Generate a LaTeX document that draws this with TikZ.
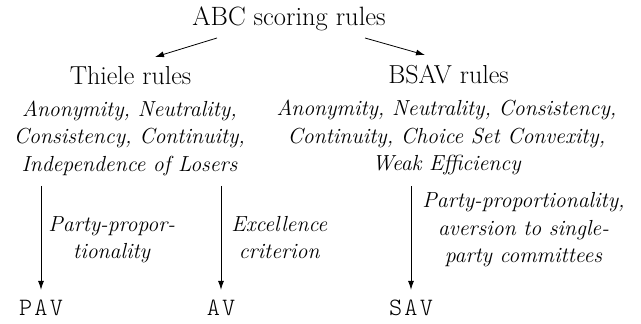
\documentclass[tikz,border=0pt]{standalone}
\usepackage{fontspec}
\newfontfamily\codefont{Latin Modern Mono Light}[LetterSpace=9]
\usetikzlibrary{arrows.meta}
\begin{document}
\begin{tikzpicture}[x=1pt,y=-1pt,
  title/.style={font=\fontsize{26.5}{30}\selectfont, inner sep=0pt, anchor=base},
  big/.style={font=\fontsize{26}{30}\selectfont, inner sep=0pt, anchor=base},
  props/.style={font=\fontsize{21.8}{27.5}\selectfont\itshape, align=center, inner sep=0pt, anchor=north},
  code/.style={font=\fontsize{25}{30}\selectfont\codefont, inner xsep=0pt, inner ysep=3pt, text height=22pt, text depth=5pt, anchor=base},
  arr/.style={line width=0.8pt, -{Latex[length=9pt,width=6pt]}},
  lbl/.style={font=\fontsize{21.8}{27.5}\selectfont\itshape, align=center, inner sep=0pt, anchor=west}
]
\useasboundingbox (0,0) rectangle (641,324);

\node[title] (abc) at (289,26) {ABC scoring rules};
\node[big] (thiele) at (130.5,84) {Thiele rules};
\node[big] (bsav) at (448.5,83.5) {BSAV rules};

\node[props] (thieleprops) at (129.5,97)
  {\strut Anonymity, Neutrality,\\ \strut Consistency, Continuity,\\ \strut Independence of Losers};
\node[props] (bsavprops) at (446.5,96.5)
  {\strut Anonymity, Neutrality, Consistency,\\ \strut Continuity, Choice Set Convexity,\\ \strut Weak Efficiency};

\node[code] (pav) at (41,315) {PAV};
\node[code] (av) at (221,315) {AV};
\node[code] (sav) at (411,315) {SAV};

\coordinate (l1) at (217,38);
\coordinate (l2) at (155,57);
\coordinate (r1) at (365,38);
\coordinate (r2) at (425,55);
\draw[arr] (l1) -- (l2);
\draw[arr] (r1) -- (r2);

\draw[arr] ([yshift=-6pt]thieleprops.south -| pav.north) -- (pav.north)
  node[lbl, midway, xshift=7pt, yshift=-1.75pt] (lblpav) {\strut Party-propor-\\ \strut tionality};
\draw[arr] ([yshift=-6pt]thieleprops.south -| av.north) -- (av.north)
  node[lbl, midway, xshift=10pt, yshift=-1.75pt] (lblav) {\strut Excellence\\ \strut criterion};
\draw[arr] ([yshift=-7pt]bsavprops.south -| sav.north) -- (sav.north)
  node[lbl, midway, xshift=11pt, yshift=8.5pt] (lblsav) {\strut Party-proportionality,\\ \strut aversion to single-\\ \strut party committees};
\end{tikzpicture}
\end{document}
